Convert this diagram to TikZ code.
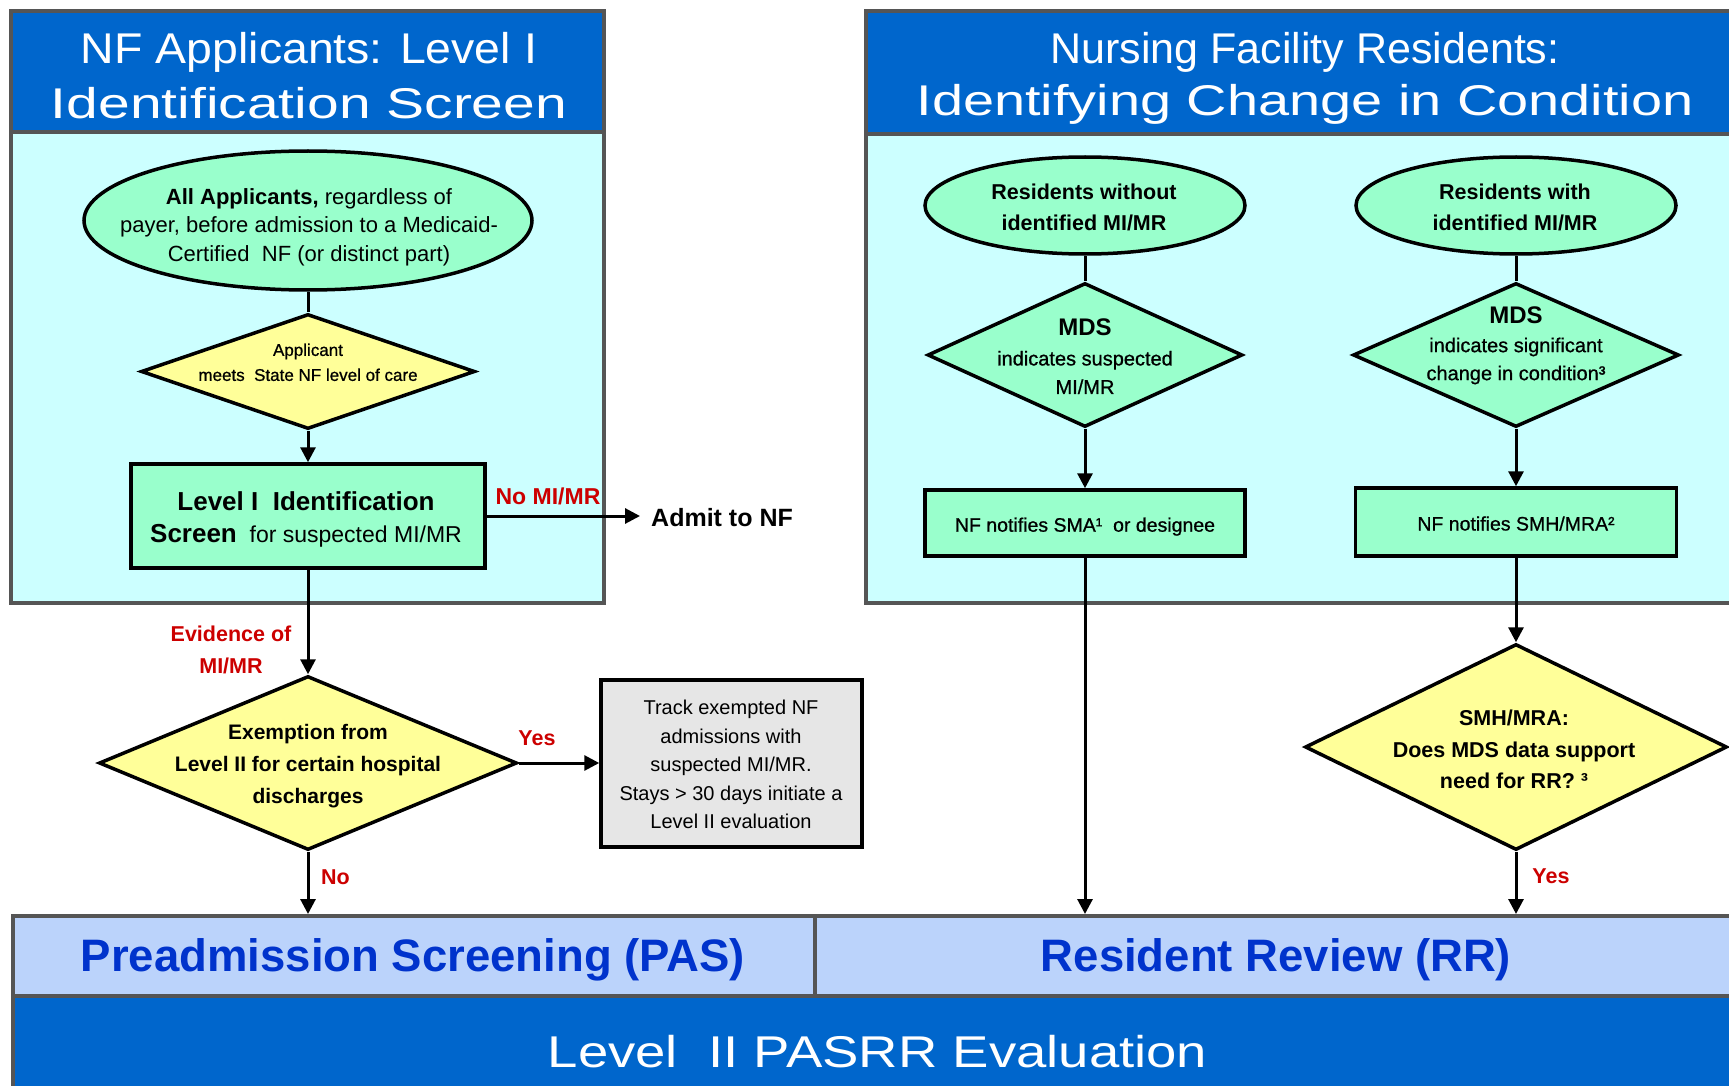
\documentclass[tikz,border=0pt]{standalone}
\usepackage{fontspec}
\setmainfont{Liberation Sans}
\newfontfamily\hdrfont{Liberation Sans}
\newfontfamily\medfont[FakeBold=0.8]{Liberation Sans}
\usetikzlibrary{shapes.geometric,arrows.meta}
\definecolor{hdrblue}{RGB}{0,102,204}
\definecolor{cyanbg}{RGB}{204,255,255}
\definecolor{mint}{RGB}{153,255,204}
\definecolor{lyellow}{RGB}{255,255,153}
\definecolor{lgray}{RGB}{230,230,230}
\definecolor{barblue}{RGB}{187,211,251}
\definecolor{pastext}{RGB}{0,51,204}
\definecolor{labred}{RGB}{204,0,0}
\definecolor{bordgray}{RGB}{85,85,85}
\newcommand\fsz[2]{\fontsize{#1}{#2}\selectfont}
\newcommand\hst[1]{\addfontfeature{FakeStretch=#1}}
\tikzset{
  panel/.style={draw=bordgray, line width=4pt},
  shapebox/.style={draw=black, line width=3.5pt, inner sep=0pt},
  oval/.style={shapebox, ellipse, fill=mint},
  gdiam/.style={shapebox, diamond, fill=mint},
  ydiam/.style={shapebox, diamond, fill=lyellow},
  gbox/.style={shapebox, rectangle, fill=mint},
  graybox/.style={shapebox, rectangle, fill=lgray},
  txt/.style={inner sep=0pt, align=center, text=black},
  lab/.style={inner sep=0pt, align=center, text=labred, font=\bfseries\fsz{21.5}{31.6}},
  conn/.style={draw=black, line width=3pt},
  arr/.style={conn, -{Triangle[length=15pt,width=15pt]}},
  hdr/.style={inner sep=0pt, align=center, text=white, font=\hdrfont\fsz{43}{55}},
  bar/.style={draw=bordgray, line width=4pt, inner sep=0pt, anchor=north west},
}
\begin{document}
\begin{tikzpicture}[x=1pt,y=-1pt]
\useasboundingbox (0,0) rectangle (1729,1086);
\clip (0,0) rectangle (1729,1086);

% ---- left panel
\fill[cyanbg] (11,11) rectangle (604,603);
\fill[hdrblue] (11,11) rectangle (604,132);
\draw[panel] (11,132) -- (604,132);
\draw[panel] (11,11) rectangle (604,603);
% ---- right panel
\fill[cyanbg] (866,11) rectangle (1745,603);
\fill[hdrblue] (866,11) rectangle (1745,134);
\draw[panel] (866,134) -- (1745,134);
\draw[panel] (866,11) rectangle (1745,603);

\node[hdr] (h1) at (309,75.8) {{\hst{1.08}NF Applicants: Level I}\\{\hst{1.325}Identification Screen}};
\node[hdr, font=\hdrfont\fsz{43}{52}] (h2) at (1305,78.4) {Nursing Facility Residents:\\{\hst{1.3}Identifying Change in Condition}};

% ---- bottom bars
\node[bar, fill=hdrblue, minimum width=1734pt, minimum height=96pt] (lv2) at (11,994) {};
\node[bar, fill=barblue, minimum width=802pt, minimum height=80pt] (pas) at (11,914) {};
\node[bar, fill=barblue, minimum width=928pt, minimum height=80pt] (rr) at (813,914) {};
\node[txt, text=pastext, font=\bfseries\fsz{45.5}{50}, anchor=base] (past) at (413,971) {Preadmission Screening (PAS)};
\node[txt, text=pastext, font=\bfseries\fsz{45.5}{50}, anchor=base] (rrt) at (1276,971) {Resident Review (RR)};
\node[txt, text=white, font=\hdrfont\fsz{44.5}{50}\hst{1.225}, anchor=base] (lv2t) at (877.5,1067) {Level\ \ II PASRR Evaluation};

% ---- left column
\node[oval, minimum width=448pt, minimum height=139pt] (e1) at (308,220.5) {};
\node[txt, font=\fsz{22}{28.7}] (e1t) at (309,227.3) {\textbf{All Applicants,} regardless of\\payer, before admission to a Medicaid-\\Certified\ \ NF (or distinct part)};

\node[ydiam, minimum width=334pt, minimum height=115pt] (d1) at (308,371.5) {};
\node[txt, font=\medfont\fsz{17}{25}] (d1t) at (308,362.3) {Applicant\\meets\ \ State NF level of care};

\node[gbox, minimum width=354pt, minimum height=104pt] (b1) at (308,516) {};
\node[txt, font=\fsz{23}{32}] (b1t) at (306,519.7) {{\bfseries\fsz{26}{32}Level I\ \ Identification}\\{\bfseries\fsz{26}{32}Screen}\ \ for suspected MI/MR};

\node[txt, font=\bfseries\fsz{25}{30}, anchor=base west] (admit) at (651,526) {Admit to NF};
\node[lab, font=\bfseries\fsz{23}{26}, anchor=base] (nolab) at (548,504) {No MI/MR};
\node[lab] (evlab) at (231,649.8) {Evidence of\\MI/MR};

\node[ydiam, minimum width=418pt, minimum height=174pt] (d2) at (308,763) {};
\node[txt, font=\bfseries\fsz{21}{32}] (d2t) at (308,766.5) {Exemption from\\Level II for certain hospital\\discharges};

\node[graybox, minimum width=261pt, minimum height=167pt] (gb) at (731.5,763.5) {};
\node[txt, font=\fsz{20}{28.5}] (gbt) at (731,764.7) {Track exempted NF\\admissions with\\suspected MI/MR.\\Stays > 30 days initiate a\\Level II evaluation};

\node[lab, anchor=base] (yes1) at (537,745) {Yes};
\node[lab, anchor=base] (no1) at (335.5,884) {No};

% ---- right columns
\node[oval, minimum width=320pt, minimum height=97pt] (e2) at (1085,205.5) {};
\node[txt, font=\bfseries\fsz{21.5}{31.7}] (e2t) at (1084,207.3) {Residents without\\identified MI/MR};
\node[oval, minimum width=320pt, minimum height=97pt] (e3) at (1516,205.5) {};
\node[txt, font=\bfseries\fsz{21.5}{31.7}] (e3t) at (1515,207.3) {Residents with\\identified MI/MR};

\node[gdiam, minimum width=315pt, minimum height=144pt] (d3) at (1085,355) {};
\node[txt, font=\medfont\fsz{20}{28.5}] (d3t) at (1085,356.4) {{\normalfont\bfseries\fsz{24}{28.5}MDS}\\[1.5pt]indicates suspected\\MI/MR};
\node[gdiam, minimum width=326pt, minimum height=144pt] (d4) at (1516,355) {};
\node[txt, font=\medfont\fsz{20}{28}] (d4t) at (1516,345.5) {{\normalfont\bfseries\fsz{24}{28}MDS}\\[0.7pt]indicates significant\\change in condition³};

\node[gbox, minimum width=320pt, minimum height=66pt] (b3) at (1085,523) {};
\node[txt, font=\medfont\fsz{19.5}{24}, anchor=base] (b3t) at (1085,531.7) {NF notifies SMA¹\ \ or designee};
\node[gbox, minimum width=321pt, minimum height=68pt] (b4) at (1516,522) {};
\node[txt, font=\medfont\fsz{19.5}{24}, anchor=base] (b4t) at (1516,530.5) {NF notifies SMH/MRA²};

\node[ydiam, minimum width=422pt, minimum height=206pt] (d5) at (1516,747) {};
\node[txt, font=\bfseries\fsz{21.5}{31.5}] (d5t) at (1514,749.7) {SMH/MRA:\\Does MDS data support\\need for RR? ³};
\node[lab, anchor=base] (yes2) at (1551,883.3) {Yes};

% ---- connectors
\draw[conn] (e1.south) -- (d1.north);
\draw[arr] (d1.south) -- (b1.north);
\draw[arr, shorten >=11pt] (b1.east) -- (b1.east -| admit.west);
\draw[arr] (b1.south) -- (d2.north);
\draw[arr] (d2.east) -- (d2.east -| gb.west);
\draw[arr] (d2.south) -- (d2.south |- pas.north);
\draw[conn] (e2.south) -- (d3.north);
\draw[conn] (e3.south) -- (d4.north);
\draw[arr] (d3.south) -- (d3.south |- b3.north);
\draw[arr] (d4.south) -- (d4.south |- b4.north);
\draw[arr] (b3.south) -- (b3.south |- rr.north);
\draw[arr] (b4.south) -- (b4.south |- d5.north);
\draw[arr] (d5.south) -- (d5.south |- rr.north);
\end{tikzpicture}
\end{document}
